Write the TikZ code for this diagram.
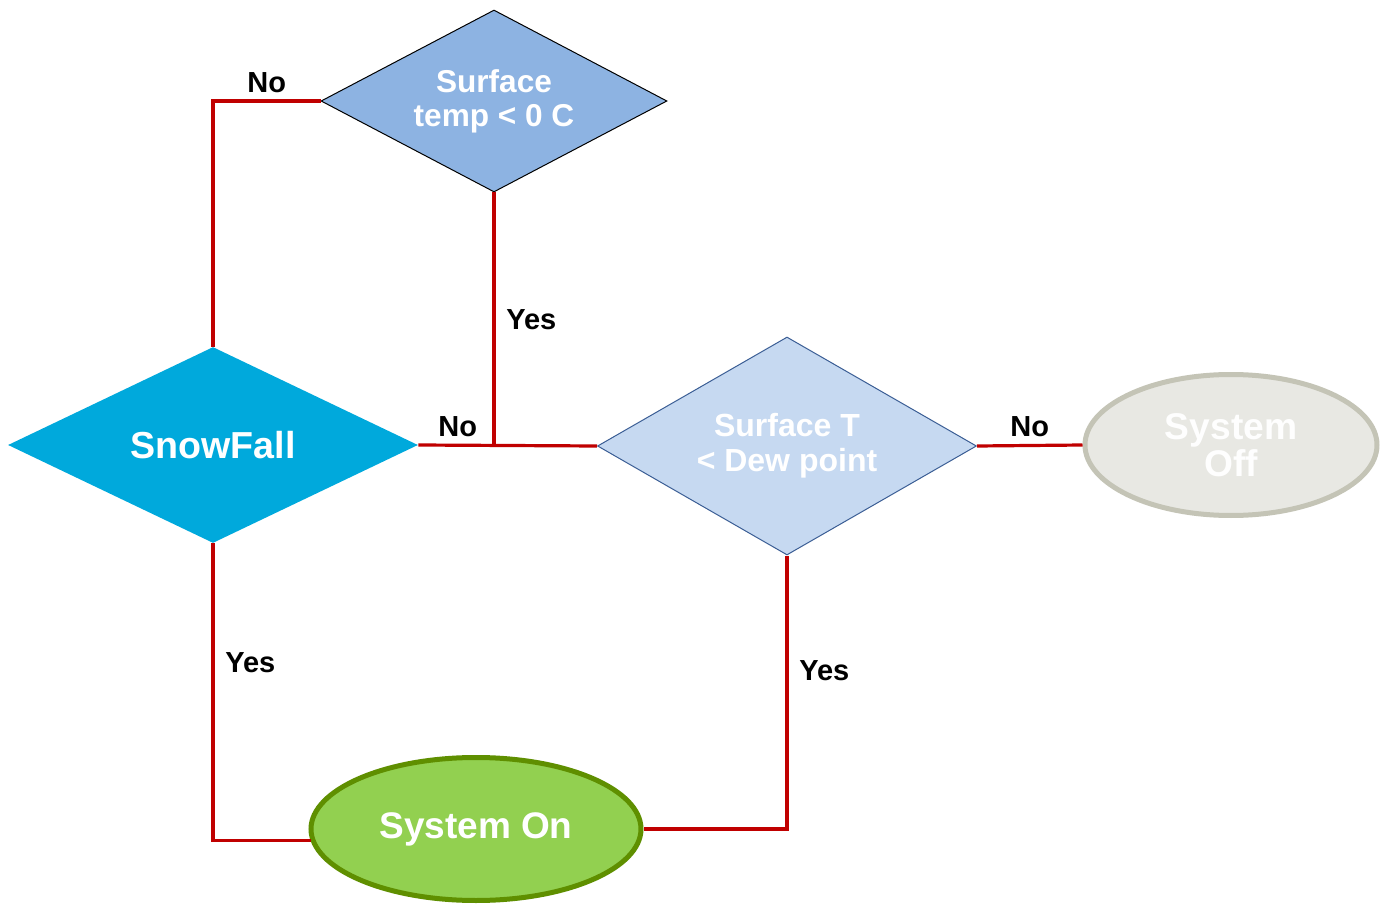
\documentclass[tikz,border=0pt]{standalone}
\usepackage{fontspec}
\setmainfont{Liberation Sans}
\usepackage{tikz}
\usetikzlibrary{shapes.geometric}
\definecolor{wirered}{HTML}{C00000}
\definecolor{surfblue}{HTML}{8DB3E2}
\definecolor{snowblue}{HTML}{00A9DC}
\definecolor{dewblue}{HTML}{C6D9F1}
\definecolor{dewedge}{HTML}{3B5E95}
\definecolor{offgray}{HTML}{E8E8E3}
\definecolor{offedge}{HTML}{C4C4B6}
\definecolor{ongreen}{HTML}{92D050}
\definecolor{onedge}{HTML}{5F8F00}
\newcommand{\fs}[2]{\fontsize{#1}{#2}\selectfont}

\begin{document}
\begin{tikzpicture}[x=0.5pt,y=-0.5pt]
      \tikzstyle{decision}=[diamond, inner sep=0pt, text=white, align=center]
      \tikzstyle{terminal}=[ellipse, inner sep=0pt, line width=2.5pt, align=center]
      \tikzstyle{answer}=[font=\bfseries\fs{14.5}{16}]
      \tikzstyle{wire}=[draw=wirered, line width=1.6pt]
      \fill[white] (0,0) rectangle (1389,904);
      \useasboundingbox (0,0) rectangle (1389,904);
      % decisions
      \node[decision, fill=surfblue, draw=black, line width=0.5pt, aspect=1.9,
            minimum width=173pt, minimum height=91pt, font=\bfseries\fs{15.8}{17}]
            (surf) at (494,101) {Surface\\temp < 0 C};
      \node[decision, fill=snowblue, aspect=2.1,
            minimum width=205pt, minimum height=98pt, font=\bfseries\fs{18.8}{22}]
            (snow) at (213,445) {SnowFall};
      \node[decision, fill=dewblue, draw=dewedge, line width=0.5pt, aspect=1.74,
            minimum width=189.5pt, minimum height=109pt, font=\bfseries\fs{16}{17.5}]
            (dew) at (787,446) {Surface T\\< Dew point};
      % end states
      \node[terminal, fill=offgray, draw=offedge, text=white!96!offgray,
            minimum width=146pt, minimum height=70.5pt, font=\bfseries\fs{18.6}{18.5}]
            (off) at (1231,445) {System\\Off};
      \node[terminal, fill=ongreen, draw=onedge, text=white,
            minimum width=165pt, minimum height=71.5pt, font=\bfseries\fs{18.5}{20}]
            (on) at (476,829) {System On};
      % connectors
      \draw[wire] (snow.north) |- (surf.west) node[answer, above, pos=0.75] {No};
      \draw[wire] (surf.south) -- (surf.south |- dew.west) node[answer, right=2pt, midway] {Yes};
      \draw[wire] (snow.east) -- (dew.west) node[answer, above, pos=0.22] {No};
      \draw[wire] (dew.east) -- (off.west) node[answer, above, midway] {No};
      \draw[wire] (snow.south) |- (on.184) node[answer, right=2pt, pos=0.2] {Yes};
      \draw[wire] (dew.south) |- (on.east) node[answer, right=2pt, pos=0.21] {Yes};
\end{tikzpicture}
\end{document}
